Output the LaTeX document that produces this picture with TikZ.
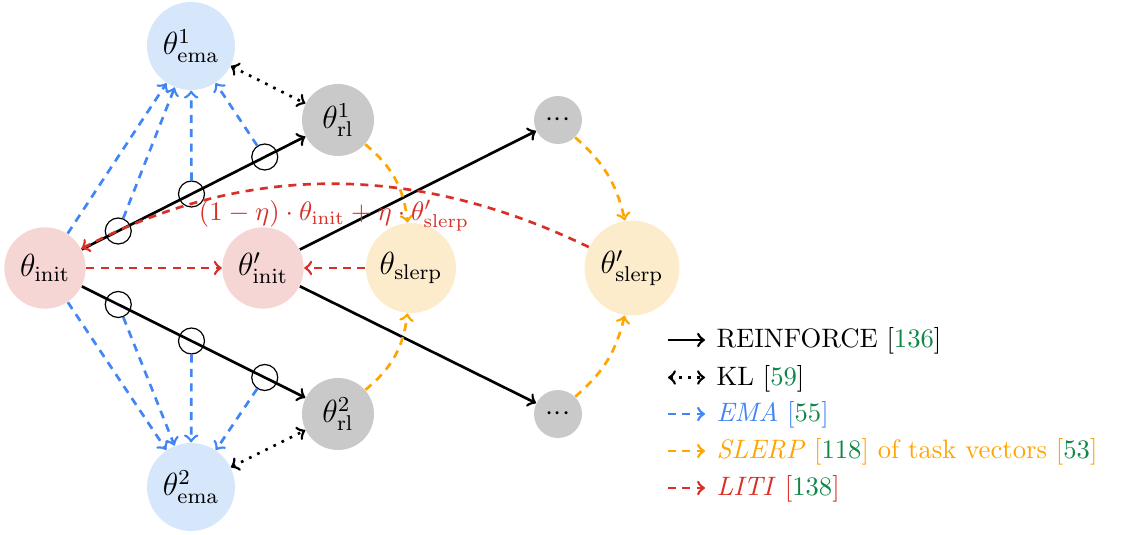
\documentclass[tikz,border=0pt]{standalone}
\usetikzlibrary{calc}
\definecolor{initfill}{RGB}{246,213,213}
\definecolor{emafill}{RGB}{214,230,251}
\definecolor{rlfill}{RGB}{201,201,201}
\definecolor{slerpfill}{RGB}{253,236,204}
\definecolor{emablue}{RGB}{66,133,244}
\definecolor{slerporange}{RGB}{255,165,0}
\definecolor{litired}{RGB}{215,48,39}
\definecolor{citegreen}{RGB}{16,135,72}
\newcommand{\cit}[1]{\textcolor{citegreen}{#1}}
\newcommand{\threedots}{$\mathord{\cdot}\mathord{\cdot}\mathord{\cdot}$}

\begin{document}
\begin{tikzpicture}[x=0.375pt,y=0.375pt,
  param/.style={circle,inner sep=0pt,font=\fontsize{12}{14}\selectfont},
  initnode/.style={param,fill=initfill,minimum size=30.5pt},
  emanode/.style={param,fill=emafill,minimum size=33pt},
  rlnode/.style={param,fill=rlfill,minimum size=27pt},
  dotnode/.style={param,fill=rlfill,minimum size=18pt,font=\fontsize{11}{13}\selectfont},
  slerpnode/.style={param,fill=slerpfill,minimum size=34pt},
  ring/.style={circle,draw=black,line width=0.45pt,minimum size=9.75pt,inner sep=0pt},
  reinforce/.style={->,line width=1pt},
  kl/.style={<->,line width=1pt,dash pattern=on 1pt off 2.4pt},
  emaline/.style={->,line width=1pt,emablue,dash pattern=on 3pt off 2.4pt},
  slerpline/.style={->,line width=1pt,slerporange,dash pattern=on 3pt off 2.4pt},
  litiline/.style={->,line width=1pt,litired,dash pattern=on 3pt off 2.4pt},
  legtext/.style={anchor=base west,inner sep=0pt,font=\fontsize{10}{12}\selectfont}]

\useasboundingbox (0,0) rectangle (1121,534);

% parameter nodes
\node[initnode] (init) at (45,266) {$\theta_{\mathrm{init}}$};
\node[initnode] (initp) at (263,266) {$\theta'_{\mathrm{init}}$};
\node[slerpnode,minimum size=33.75pt] (slerp) at (411,266) {$\theta_{\mathrm{slerp}}$};
\node[slerpnode,minimum size=35.6pt] (slerpp) at (632,266) {$\theta'_{\mathrm{slerp}}$};
\node[emanode] (ema1) at (191,488) {$\theta^1_{\mathrm{ema}}$};
\node[emanode] (ema2) at (191,47) {$\theta^2_{\mathrm{ema}}$};
\node[rlnode] (rl1) at (338,414) {$\theta^1_{\mathrm{rl}}$};
\node[rlnode] (rl2) at (338,120) {$\theta^2_{\mathrm{rl}}$};
\node[dotnode] (d1) at (558,414) {\threedots};
\node[dotnode] (d2) at (558,120) {\threedots};

% checkpoints along the REINFORCE runs
\node[ring] (a1) at ($(init)!0.25!(rl1)$) {};
\node[ring] (a2) at ($(init)!0.5!(rl1)$) {};
\node[ring] (a3) at ($(init)!0.75!(rl1)$) {};
\node[ring] (b1) at ($(init)!0.25!(rl2)$) {};
\node[ring] (b2) at ($(init)!0.5!(rl2)$) {};
\node[ring] (b3) at ($(init)!0.75!(rl2)$) {};

% REINFORCE
\draw[reinforce] (init) -- (rl1);
\draw[reinforce] (init) -- (rl2);
\draw[reinforce] (initp) -- (d1);
\draw[reinforce] (initp) -- (d2);

% KL
\draw[kl] (ema1) -- (rl1);
\draw[kl] (ema2) -- (rl2);

% EMA
\draw[emaline] (init) -- (ema1);
\draw[emaline] (a1) -- (ema1);
\draw[emaline] (a2) -- (ema1);
\draw[emaline] (a3) -- (ema1);
\draw[emaline] (init) -- (ema2);
\draw[emaline] (b1) -- (ema2);
\draw[emaline] (b2) -- (ema2);
\draw[emaline] (b3) -- (ema2);

% SLERP
\draw[slerpline] (rl1) to[bend left=22] (slerp);
\draw[slerpline] (rl2) to[bend right=22] (slerp);
\draw[slerpline] (d1) to[bend left=18] (slerpp);
\draw[slerpline] (d2) to[bend right=18] (slerpp);

% LITI
\draw[litiline] (init) -- (initp);
\draw[litiline] (slerp) -- (initp);
\coordinate (lc1) at (413,372);
\coordinate (lc2) at (244,371);
\draw[litiline] (slerpp) .. controls (lc1) and (lc2) .. (init);
\node[text=litired,font=\fontsize{10.2}{12}\selectfont,inner sep=0pt] (litilabel) at (334,318)
  {$(1-\eta)\cdot\theta_{\mathrm{init}}+\eta\cdot\theta'_{\mathrm{slerp}}$};

% legend
\coordinate (l1a) at (668,194); \coordinate (l1b) at (705,194);
\coordinate (l2a) at (668,156.5); \coordinate (l2b) at (705,156.5);
\coordinate (l3a) at (668,120); \coordinate (l3b) at (705,120);
\coordinate (l4a) at (668,83); \coordinate (l4b) at (705,83);
\coordinate (l5a) at (668,46); \coordinate (l5b) at (705,46);
\draw[reinforce] (l1a) -- (l1b);
\draw[kl] (l2a) -- (l2b);
\draw[emaline] (l3a) -- (l3b);
\draw[slerpline] (l4a) -- (l4b);
\draw[litiline] (l5a) -- (l5b);
\node[legtext] (t1) at (716,186) {REINFORCE [\cit{136}]};
\node[legtext] (t2) at (716,148.5) {KL [\cit{59}]};
\node[legtext,text=emablue] (t3) at (716,112) {\textit{EMA} [\cit{55}]};
\node[legtext,text=slerporange] (t4) at (716,75) {\textit{SLERP} [\cit{118}] of task vectors [\cit{53}]};
\node[legtext,text=litired] (t5) at (716,38) {\textit{LITI} [\cit{138}]};
\end{tikzpicture}
\end{document}
